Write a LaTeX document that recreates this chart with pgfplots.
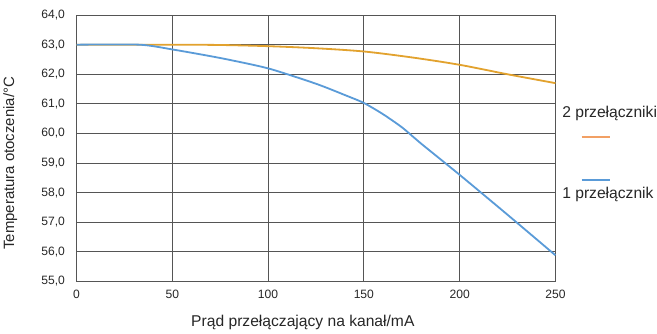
\documentclass[border=0pt]{standalone}
\usepackage{pgfplots}
\pgfplotsset{compat=1.18}
\usepackage{fontspec}
\setmainfont{Liberation Sans}
\definecolor{orangeline}{HTML}{E2A22E}
\definecolor{legorange}{HTML}{F2A064}
\definecolor{blueline}{HTML}{5A9BD8}
\definecolor{gridc}{HTML}{555555}
\begin{document}
\begin{tikzpicture}
\begin{axis}[
  scale only axis,
  width=475pt, height=264pt,
  xmin=0, xmax=250, ymin=55, ymax=64,
  xtick={0,50,...,250},
  ytick={55,56,...,64},
  grid=major,
  major grid style={gridc, line width=0.8pt},
  axis line style={gridc, line width=0.8pt},
  major tick length=0pt,
  tick label style={font=\fontsize{12}{14}\selectfont, text=black!85},
  yticklabel style={xshift=-8pt, /pgf/number format/.cd, fixed, fixed zerofill, precision=1, use comma, assume math mode=true},
  xticklabel style={yshift=-5pt, /pgf/number format/.cd, assume math mode=true},
  xlabel={Prąd przełączający na kanał/mA},
  ylabel={Temperatura otoczenia/°C},
  label style={text=black!85},
  xlabel style={font=\fontsize{15.5}{18}\selectfont, yshift=-10pt, xshift=-13pt},
  ylabel style={font=\fontsize{14.8}{17}\selectfont, yshift=17pt, xshift=-15pt},
  clip=false,
]
\addplot[orangeline, line width=1.8pt, smooth, tension=0.5] coordinates {
  (0,63) (50,63) (75,62.99) (100,62.95) (125,62.88) (150,62.77) (175,62.57) (200,62.32) (225,62.0) (250,61.7)
};
\addplot[blueline, line width=1.8pt, smooth, tension=0.4] coordinates {
  (0,63) (33,63) (50,62.84) (75,62.55) (100,62.2) (125,61.68) (140,61.3) (150,61.03) (160,60.65) (170,60.2) (180,59.65) (200,58.6) (225,57.25) (250,55.88)
};
\draw[draw=legorange, line width=2pt] (axis cs:263.7,59.87) -- (axis cs:278.4,59.87);
\draw[draw=blueline, line width=2pt] (axis cs:263.7,58.44) -- (axis cs:278.4,58.44);
\node[anchor=west, inner sep=0pt, font=\fontsize{15.5}{18}\selectfont, text=black!85] at (axis cs:253.5,60.66) {2 przełączniki};
\node[anchor=west, inner sep=0pt, font=\fontsize{15.5}{18}\selectfont, text=black!85] at (axis cs:253.5,57.93) {1 przełącznik};
\end{axis}
\path ([yshift=15pt]current axis.north) ([yshift=-52pt]current axis.south);
\end{tikzpicture}
\end{document}
